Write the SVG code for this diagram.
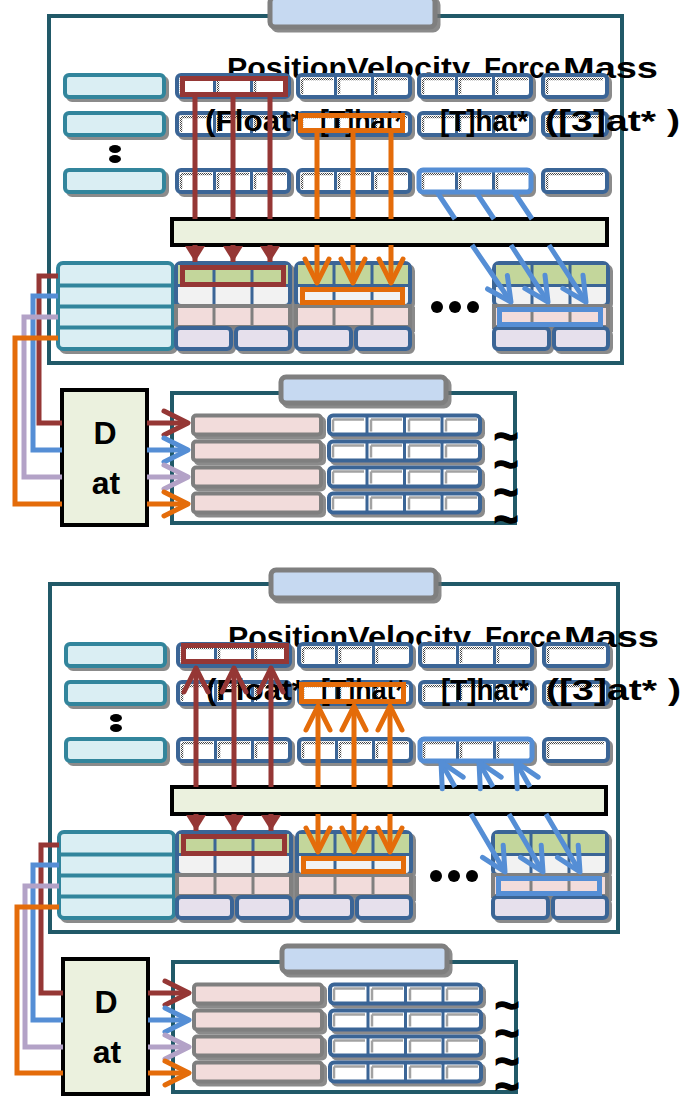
<svg xmlns="http://www.w3.org/2000/svg" width="681" height="1097" viewBox="0 0 681 1097">
<style>
.frame{fill:#fff;stroke:#215968;stroke-width:4}
.title{fill:#c6d9f1;stroke:#7f7f7f;stroke-width:5}
.key{fill:#daeef3;stroke:#31859c;stroke-width:4}
.kd{stroke:#31859c;stroke-width:4;fill:none}
.bb{fill:#fff;stroke:#3a6596;stroke-width:4}
.bd{stroke:#3a6596;stroke-width:3;fill:none}
.gd{stroke:#808080;stroke-width:3;fill:none}
.stp{stroke:url(#stip);stroke-width:2.5;fill:none}
.bar{fill:#ebf1de;stroke:#000;stroke-width:4}
.lbl{font-family:"Liberation Sans",Arial,sans-serif;font-size:29px;font-weight:bold;fill:#000}
.big{font-family:"Liberation Sans",Arial,sans-serif;font-size:32px;font-weight:bold;fill:#000;text-anchor:middle}
.tl{font-family:"Liberation Sans",Arial,sans-serif;font-size:42px;font-weight:bold;fill:#000;stroke:#000;stroke-width:1.5;text-anchor:middle}
.sh{filter:url(#sh)}
.hm{fill:none;stroke:#953735;stroke-width:5}
.ho{fill:none;stroke:#e46c0a;stroke-width:5}
.hb{fill:none;stroke:#558ed5;stroke-width:5}
.cM{fill:none;stroke:#953735;stroke-width:5}
.cO{fill:none;stroke:#e46c0a;stroke-width:5}
.cB{fill:none;stroke:#558ed5;stroke-width:5}
.cL{fill:none;stroke:#b3a2c7;stroke-width:5}
</style>
<defs>
<pattern id="stip" width="2" height="2" patternUnits="userSpaceOnUse"><rect width="2" height="2" fill="#fff"/><rect width="1" height="1" fill="#444"/><rect x="1" y="1" width="1" height="1" fill="#444"/></pattern>
<filter id="sh" x="-10%" y="-10%" width="130%" height="140%">
<feOffset in="SourceAlpha" dx="3" dy="3" result="o"/>
<feFlood flood-color="#6e6e6e" flood-opacity="0.8"/>
<feComposite in2="o" operator="in" result="s"/>
<feMerge><feMergeNode in="s"/><feMergeNode in="SourceGraphic"/></feMerge>
</filter>
<marker id="chM" markerUnits="userSpaceOnUse" viewBox="-30 -16 34 32" markerWidth="34" markerHeight="32" refX="0" refY="0" orient="auto-start-reverse"><path d="M-24,-12L0,0L-24,12" fill="none" stroke="#953735" stroke-width="5" stroke-linecap="round" stroke-linejoin="round"/></marker>
<marker id="chO" markerUnits="userSpaceOnUse" viewBox="-30 -16 34 32" markerWidth="34" markerHeight="32" refX="0" refY="0" orient="auto-start-reverse"><path d="M-24,-12L0,0L-24,12" fill="none" stroke="#e46c0a" stroke-width="5" stroke-linecap="round" stroke-linejoin="round"/></marker>
<marker id="chB" markerUnits="userSpaceOnUse" viewBox="-30 -16 34 32" markerWidth="34" markerHeight="32" refX="0" refY="0" orient="auto-start-reverse"><path d="M-24,-12L0,0L-24,12" fill="none" stroke="#558ed5" stroke-width="5" stroke-linecap="round" stroke-linejoin="round"/></marker>
<marker id="chL" markerUnits="userSpaceOnUse" viewBox="-30 -16 34 32" markerWidth="34" markerHeight="32" refX="0" refY="0" orient="auto-start-reverse"><path d="M-24,-12L0,0L-24,12" fill="none" stroke="#b3a2c7" stroke-width="5" stroke-linecap="round" stroke-linejoin="round"/></marker>
<marker id="triM" markerUnits="userSpaceOnUse" viewBox="-18 -12 20 24" markerWidth="20" markerHeight="24" refX="0" refY="0" orient="auto"><path d="M-16,-10L0,0L-16,10Z" fill="#953735"/></marker>
<g id="keybox"><rect x="0" y="0" width="99" height="22" rx="4" class="key"/></g>
<g id="trip"><rect x="0" y="0" width="112" height="22" rx="4" class="bb"/><path d="M4,4V19M4,4H35M41,4V19M41,4H72M78,4V19M78,4H109" class="stp"/><path d="M37.5,0V22M74.5,0V22" class="bd"/></g>
<g id="sing"><rect x="0" y="0" width="64" height="22" rx="4" class="bb"/><path d="M4,4V19M4,4H60" class="stp"/></g>
<g id="left4"><rect x="0" y="0" width="115" height="86" rx="5" class="key"/><path d="M0,22.5H115M0,43.5H115M0,64.5H115" class="kd"/></g>
<g id="grid4"><rect x="0" y="0" width="114" height="43" rx="5" fill="#f2f2f2" stroke="#3a6596" stroke-width="4"/><rect x="2" y="2" width="110" height="19.5" fill="#c3d69b"/><path d="M0,22.5H114" class="bd"/><path d="M38,0V43M76,0V43" class="bd"/><rect x="0" y="43" width="114" height="21" fill="#f2dcdb" stroke="#808080" stroke-width="4"/><path d="M38,43V64M76,43V64" class="gd"/><rect x="0" y="65" width="55" height="21" rx="4" fill="#e6e0ec" stroke="#3a6596" stroke-width="4"/><rect x="60" y="65" width="54" height="21" rx="4" fill="#e6e0ec" stroke="#3a6596" stroke-width="4"/></g>
<g id="prow"><rect x="0" y="0" width="128" height="19" rx="3" fill="#f2dcdb" stroke="#7f7f7f" stroke-width="4"/></g>
<g id="brow"><rect x="0" y="0" width="151" height="19" rx="4" class="bb"/><path d="M4,4V16M4,4H35M42,4V16M42,4H73M80,4V16M80,4H111M117,4V16M117,4H148" class="stp"/><path d="M38,0V19M75.5,0V19M113,0V19" class="bd"/></g>
</defs>

<g id="panel1">
<g id="p1-frame"><rect x="49" y="16" width="573" height="347" class="frame"/></g>
<g id="p1-title" class="sh"><rect x="270" y="-3" width="165" height="30" rx="5" class="title"/></g>
<g id="p1-headers">
<text class="lbl" x="227" y="78" textLength="120" lengthAdjust="spacingAndGlyphs">Position</text>
<text class="lbl" x="347" y="78" textLength="123" lengthAdjust="spacingAndGlyphs">Velocity</text>
<text class="lbl" x="484" y="78" textLength="76" lengthAdjust="spacingAndGlyphs">Force</text>
<text class="lbl" x="563" y="78" textLength="95" lengthAdjust="spacingAndGlyphs">Mass</text>
</g>
<g id="p1-keys" class="sh"><use href="#keybox" x="65" y="75"/><use href="#keybox" x="65" y="113"/><use href="#keybox" x="65" y="170"/></g>
<g id="p1-vdots"><ellipse cx="115" cy="149" rx="6" ry="4"/><ellipse cx="115" cy="159" rx="6" ry="4"/></g>
<g id="p1-row1" class="sh"><use href="#trip" x="177" y="75"/><use href="#trip" x="298" y="75"/><use href="#trip" x="419" y="75"/><use href="#sing" x="543" y="75"/></g>
<g id="p1-row2" class="sh"><use href="#trip" x="177" y="113"/><use href="#trip" x="298" y="113"/><use href="#trip" x="419" y="113"/><use href="#sing" x="543" y="113"/></g>
<g id="p1-row3" class="sh"><use href="#trip" x="177" y="170"/><use href="#trip" x="298" y="170"/><use href="#trip" x="419" y="170"/><use href="#sing" x="543" y="170"/></g>
<g id="p1-types">
<text class="lbl" x="205" y="131" textLength="98" lengthAdjust="spacingAndGlyphs">(Float*</text>
<text class="lbl" x="320" y="131" textLength="85" lengthAdjust="spacingAndGlyphs">[T]hat*</text>
<text class="lbl" x="440" y="131" textLength="88" lengthAdjust="spacingAndGlyphs">[T]hat*</text>
<text class="lbl" x="545" y="131" textLength="135" lengthAdjust="spacingAndGlyphs">([3]at* )</text>
</g>
<g id="p1-bar"><rect x="172" y="219" width="435" height="26" class="bar"/></g>
<g id="p1-left" class="sh"><use href="#left4" x="58" y="263"/></g>
<g id="p1-g1" class="sh"><use href="#grid4" x="176" y="263"/></g>
<g id="p1-g2" class="sh"><use href="#grid4" x="296" y="263"/></g>
<g id="p1-g3" class="sh"><use href="#grid4" x="494" y="263"/></g>
<g id="p1-ellipsis"><circle cx="437" cy="307" r="6"/><circle cx="455" cy="307" r="6"/><circle cx="473" cy="307" r="6"/></g>
<g id="p1-highlights">
<rect x="182.5" y="78.5" width="103" height="16" class="hm"/>
<rect x="300.5" y="115.5" width="102" height="15" class="ho"/>
<rect x="419" y="170" width="112" height="22" rx="4" class="hb"/>
<rect x="182.5" y="267.5" width="101" height="17" class="hm"/>
<rect x="302.5" y="289.5" width="100" height="13" class="ho"/>
<rect x="499.5" y="309.5" width="101" height="15" class="hb"/>
</g>
<g id="p1-store-frame"><rect x="172" y="393" width="343" height="130" class="frame"/></g>
<g id="p1-store-title" class="sh"><rect x="281" y="377" width="165" height="26" rx="5" class="title"/></g>
<g id="p1-store-rows" class="sh"><use href="#prow" x="193" y="415.5"/><use href="#prow" x="193" y="441.5"/><use href="#prow" x="193" y="467.5"/><use href="#prow" x="193" y="493.5"/></g>
<g id="p1-store-grid" class="sh"><use href="#brow" x="329" y="415.5"/><use href="#brow" x="329" y="441.5"/><use href="#brow" x="329" y="467.5"/><use href="#brow" x="329" y="493.5"/></g>
<g id="p1-tildes"><text class="tl" x="506" y="451">~</text><text class="tl" x="506" y="479">~</text><text class="tl" x="506" y="507">~</text><text class="tl" x="506" y="534">~</text></g>
<g id="p1-dat"><rect x="62" y="390" width="85" height="135" class="bar"/><text class="big" x="105" y="444">D</text><text class="big" x="106" y="494">at</text></g>
</g>

<g id="panel2" transform="translate(1,569)">
<g id="p2-frame"><rect x="49" y="15" width="568" height="348" class="frame"/></g>
<g id="p2-title" class="sh"><rect x="270" y="1" width="165" height="28" rx="5" class="title"/></g>
<g id="p2-headers">
<text class="lbl" x="227" y="78" textLength="120" lengthAdjust="spacingAndGlyphs">Position</text>
<text class="lbl" x="347" y="78" textLength="123" lengthAdjust="spacingAndGlyphs">Velocity</text>
<text class="lbl" x="484" y="78" textLength="76" lengthAdjust="spacingAndGlyphs">Force</text>
<text class="lbl" x="563" y="78" textLength="95" lengthAdjust="spacingAndGlyphs">Mass</text>
</g>
<g id="p2-keys" class="sh"><use href="#keybox" x="65" y="75"/><use href="#keybox" x="65" y="113"/><use href="#keybox" x="65" y="170"/></g>
<g id="p2-vdots"><ellipse cx="115" cy="149" rx="6" ry="4"/><ellipse cx="115" cy="159" rx="6" ry="4"/></g>
<g id="p2-row1" class="sh"><use href="#trip" x="177" y="75"/><use href="#trip" x="298" y="75"/><use href="#trip" x="419" y="75"/><use href="#sing" x="543" y="75"/></g>
<g id="p2-row2" class="sh"><use href="#trip" x="177" y="113"/><use href="#trip" x="298" y="113"/><use href="#trip" x="419" y="113"/><use href="#sing" x="543" y="113"/></g>
<g id="p2-row3" class="sh"><use href="#trip" x="177" y="170"/><use href="#trip" x="298" y="170"/><use href="#trip" x="419" y="170"/><use href="#sing" x="543" y="170"/></g>
<g id="p2-types">
<text class="lbl" x="205" y="131" textLength="98" lengthAdjust="spacingAndGlyphs">(Float*</text>
<text class="lbl" x="320" y="131" textLength="85" lengthAdjust="spacingAndGlyphs">[T]hat*</text>
<text class="lbl" x="440" y="131" textLength="88" lengthAdjust="spacingAndGlyphs">[T]hat*</text>
<text class="lbl" x="545" y="131" textLength="135" lengthAdjust="spacingAndGlyphs">([3]at* )</text>
</g>
<g id="p2-bar"><rect x="171" y="218" width="434" height="27" class="bar"/></g>
<g id="p2-left" class="sh"><use href="#left4" x="58" y="263"/></g>
<g id="p2-g1" class="sh"><use href="#grid4" x="176" y="263"/></g>
<g id="p2-g2" class="sh"><use href="#grid4" x="296" y="263"/></g>
<g id="p2-g3" class="sh"><use href="#grid4" x="492" y="263"/></g>
<g id="p2-ellipsis"><circle cx="435" cy="307" r="6"/><circle cx="453" cy="307" r="6"/><circle cx="471" cy="307" r="6"/></g>
<g id="p2-highlights">
<rect x="182.5" y="76.5" width="103" height="16" class="hm"/>
<rect x="300.5" y="115.5" width="102" height="17" class="ho"/>
<rect x="419" y="170" width="112" height="22" rx="4" class="hb"/>
<rect x="182.5" y="267.5" width="101" height="17" class="hm"/>
<rect x="302.5" y="289.5" width="100" height="13" class="ho"/>
<rect x="497.5" y="309.5" width="101" height="15" class="hb"/>
</g>
<g id="p2-store-frame"><rect x="172" y="393" width="343" height="130" class="frame"/></g>
<g id="p2-store-title" class="sh"><rect x="281" y="377" width="165" height="26" rx="5" class="title"/></g>
<g id="p2-store-rows" class="sh"><use href="#prow" x="193" y="415.5"/><use href="#prow" x="193" y="441.5"/><use href="#prow" x="193" y="467.5"/><use href="#prow" x="193" y="493.5"/></g>
<g id="p2-store-grid" class="sh"><use href="#brow" x="329" y="415.5"/><use href="#brow" x="329" y="441.5"/><use href="#brow" x="329" y="467.5"/><use href="#brow" x="329" y="493.5"/></g>
<g id="p2-tildes"><text class="tl" x="506" y="451">~</text><text class="tl" x="506" y="479">~</text><text class="tl" x="506" y="507">~</text><text class="tl" x="506" y="532">~</text></g>
<g id="p2-dat"><rect x="62" y="390" width="85" height="135" class="bar"/><text class="big" x="105" y="444">D</text><text class="big" x="106" y="494">at</text></g>
</g>

<g id="connectors">
<g id="conn-p1">
<path class="cM" d="M195,97V219M195,245V262" marker-end="url(#triM)"/>
<path class="cM" d="M233,97V219M233,245V262" marker-end="url(#triM)"/>
<path class="cM" d="M270,97V219M270,245V262" marker-end="url(#triM)"/>
<path class="cO" d="M317,133V219M317,245V283" marker-end="url(#chO)"/>
<path class="cO" d="M353,133V219M353,245V283" marker-end="url(#chO)"/>
<path class="cO" d="M391,133V219M391,245V283" marker-end="url(#chO)"/>
<path class="cB" d="M437,192L455,219M472,245L511,302" marker-end="url(#chB)"/>
<path class="cB" d="M476,192L494,219M511,245L548,302" marker-end="url(#chB)"/>
<path class="cB" d="M514,192L532,219M549,245L586,302" marker-end="url(#chB)"/>
<path class="cM" d="M58,276H39V423H62M147,423H188" marker-end="url(#chM)"/>
<path class="cB" d="M58,296H33V450H62M147,450H188" marker-end="url(#chB)"/>
<path class="cL" d="M58,317H24V477H62M147,477H188" marker-end="url(#chL)"/>
<path class="cO" d="M58,338H15V504H62M147,504H188" marker-end="url(#chO)"/>
</g>
<g id="conn-p2" transform="translate(1,569)">
<path class="cM" d="M195,99V218M195,245V262" marker-start="url(#chM)" marker-end="url(#triM)"/>
<path class="cM" d="M233,99V218M233,245V262" marker-start="url(#chM)" marker-end="url(#triM)"/>
<path class="cM" d="M270,99V218M270,245V262" marker-start="url(#chM)" marker-end="url(#triM)"/>
<path class="cO" d="M317,137V218M317,245V283" marker-start="url(#chO)" marker-end="url(#chO)"/>
<path class="cO" d="M353,137V218M353,245V283" marker-start="url(#chO)" marker-end="url(#chO)"/>
<path class="cO" d="M389,137V218M389,245V283" marker-start="url(#chO)" marker-end="url(#chO)"/>
<path class="cB" d="M440,193L454,218M470,245L504,303" marker-start="url(#chB)" marker-end="url(#chB)"/>
<path class="cB" d="M478,193L492,218M508,245L542,303" marker-start="url(#chB)" marker-end="url(#chB)"/>
<path class="cB" d="M515,193L529,218M545,245L579,303" marker-start="url(#chB)" marker-end="url(#chB)"/>
<path class="cM" d="M58,276H40V424H62M147,424H188" marker-end="url(#chM)"/>
<path class="cB" d="M58,296H32V451H62M147,451H188" marker-end="url(#chB)"/>
<path class="cL" d="M58,317H24V478H62M147,478H188" marker-end="url(#chL)"/>
<path class="cO" d="M58,338H16V504H62M147,504H188" marker-end="url(#chO)"/>
</g>
</g>
</svg>
